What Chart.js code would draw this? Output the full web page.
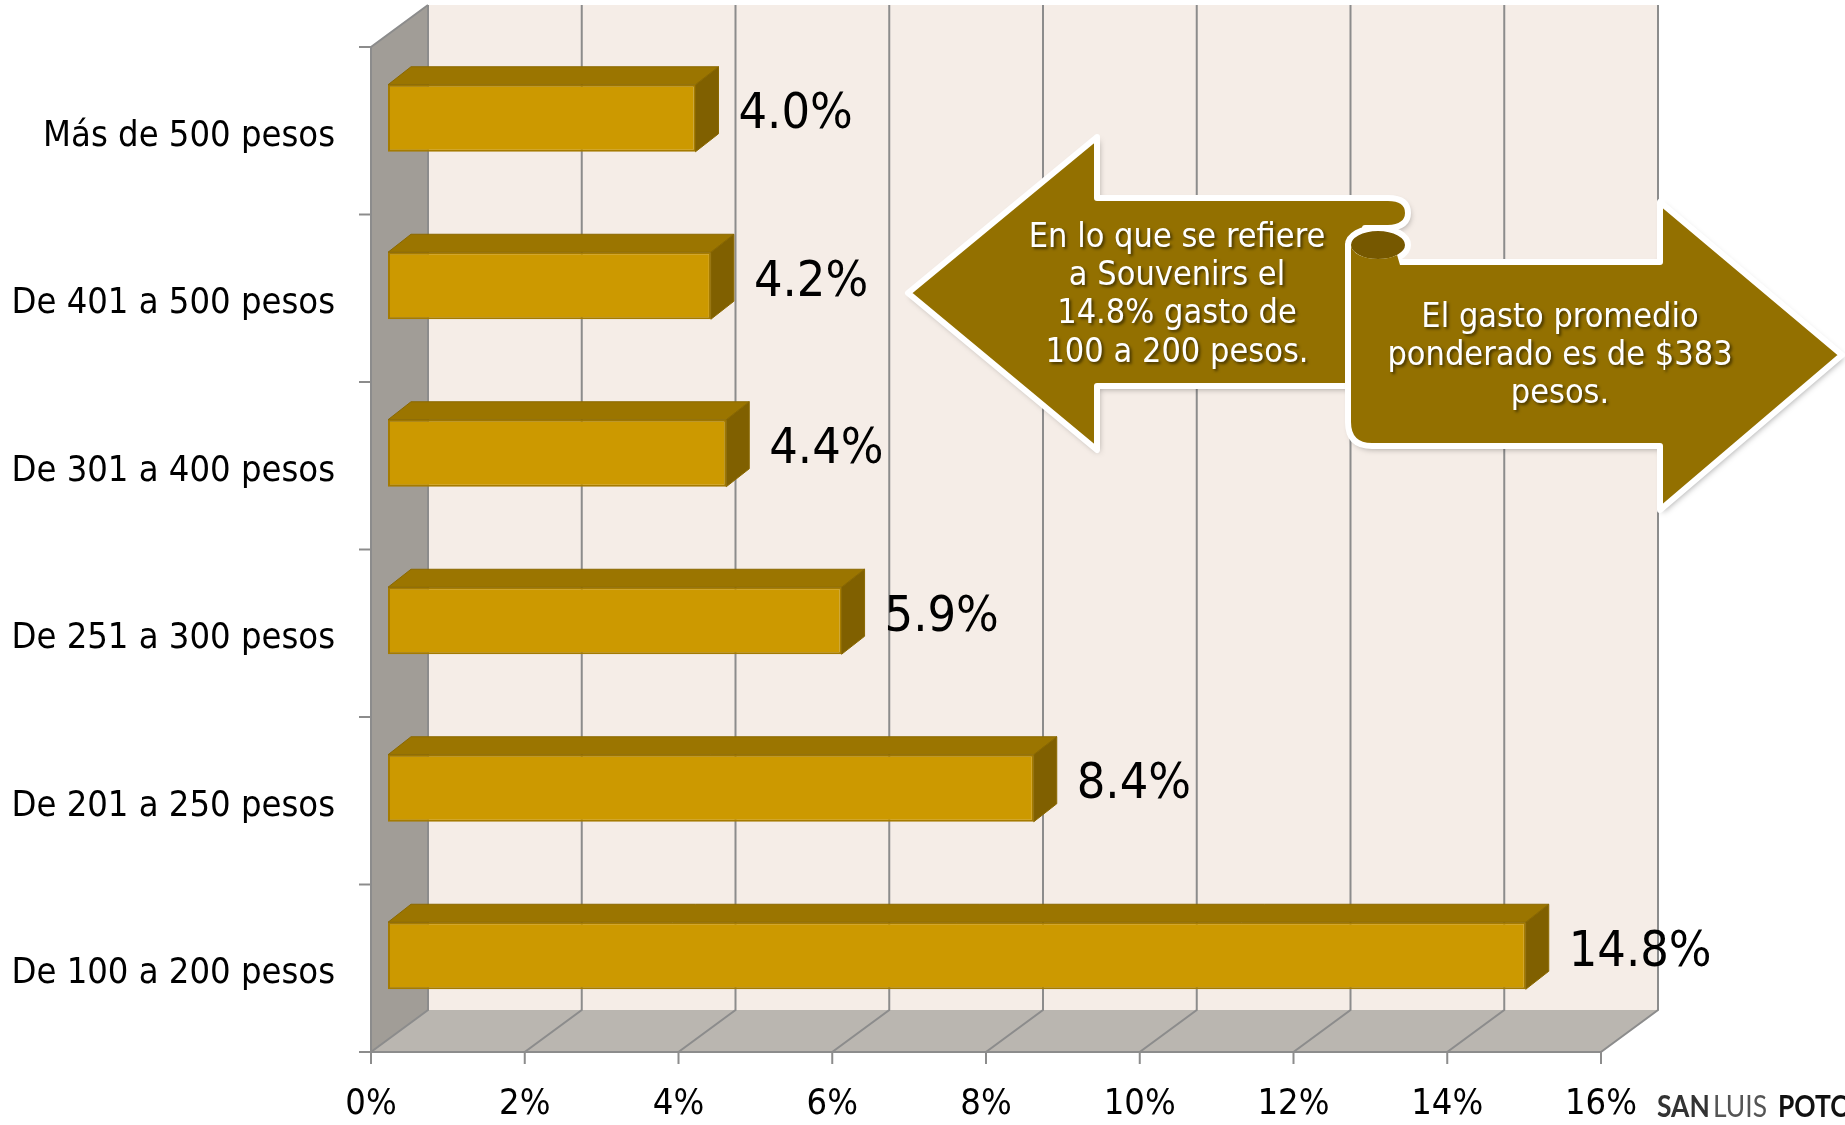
<!DOCTYPE html>
<html>
<head>
<meta charset="utf-8">
<script src="https://cdn.jsdelivr.net/npm/chart.js@4/dist/chart.umd.min.js"></script>
<style>
  html, body { margin: 0; padding: 0; background: #ffffff; }
  #wrap { width: 1845px; height: 1125px; }
</style>
</head>
<body>
<div id="wrap"><canvas id="chart" width="1845" height="1125"></canvas></div>
<script>
// Datos del gráfico
const categories = [
  'Más de 500 pesos',
  'De 401 a 500 pesos',
  'De 301 a 400 pesos',
  'De 251 a 300 pesos',
  'De 201 a 250 pesos',
  'De 100 a 200 pesos'
];
const percentages = [4.0, 4.2, 4.4, 5.9, 8.4, 14.8];
const axisMin = 0;
const axisMax = 16;
const axisStep = 2;

// Textos de las flechas y la fuente
const leftNote = ['En lo que se refiere', 'a Souvenirs el', '14.8% gasto de', '100 a 200 pesos.'];
const rightNote = ['El gasto promedio', 'ponderado es de $383', 'pesos.'];
const sourceWords = ['SAN', 'LUIS', 'POTOSÍ'];

const FONT = "'DejaVu Sans Condensed', 'DejaVu Sans', sans-serif";

// Desplazamientos de profundidad respecto al plano de las barras
const FRONT = { dx: -17, dy: 12.5 };
const BACK = { dx: 40, dy: -29.5 };
const BAR_DEPTH = { dx: 23, dy: -18 };

const GRID = '#8c8c8c';

// Paredes, piso y líneas de la cuadrícula 3D
const wallsPlugin = {
  id: 'walls3d',
  beforeDatasetsDraw(chart) {
    const { ctx, chartArea: ca, scales } = chart;
    const xs = scales.x;
    const x0 = xs.getPixelForValue(axisMin);
    const x1 = xs.getPixelForValue(axisMax);
    const ft = ca.top + FRONT.dy, fb = ca.bottom + FRONT.dy;
    const bt = ca.top + BACK.dy, bb = ca.bottom + BACK.dy;

    ctx.save();
    // pared del fondo
    ctx.fillStyle = '#f5ede7';
    ctx.fillRect(x0 + BACK.dx, bt, x1 - x0, bb - bt);

    // pared izquierda
    ctx.fillStyle = '#a19d97';
    ctx.beginPath();
    ctx.moveTo(x0 + FRONT.dx, ft);
    ctx.lineTo(x0 + BACK.dx, bt);
    ctx.lineTo(x0 + BACK.dx, bb);
    ctx.lineTo(x0 + FRONT.dx, fb);
    ctx.closePath();
    ctx.fill();

    // piso
    ctx.fillStyle = '#bab6b0';
    ctx.beginPath();
    ctx.moveTo(x0 + FRONT.dx, fb);
    ctx.lineTo(x0 + BACK.dx, bb);
    ctx.lineTo(x1 + BACK.dx, bb);
    ctx.lineTo(x1 + FRONT.dx, fb);
    ctx.closePath();
    ctx.fill();

    ctx.strokeStyle = GRID;
    ctx.lineWidth = 2;
    xs.ticks.forEach(t => {
      const px = xs.getPixelForValue(t.value);
      ctx.beginPath();
      ctx.moveTo(px + BACK.dx, bt);
      ctx.lineTo(px + BACK.dx, bb);
      ctx.lineTo(px + FRONT.dx, fb);
      ctx.lineTo(px + FRONT.dx, fb + 12);
      ctx.stroke();
    });

    // bordes de la pared izquierda y eje frontal
    ctx.beginPath();
    ctx.moveTo(x0 + BACK.dx, bt);
    ctx.lineTo(x0 + FRONT.dx, ft);
    ctx.lineTo(x0 + FRONT.dx, fb);
    ctx.lineTo(x1 + FRONT.dx, fb);
    ctx.stroke();

    // marcas del eje de categorías
    const band = (ca.bottom - ca.top) / categories.length;
    for (let i = 0; i <= categories.length; i++) {
      const py = ft + i * band;
      ctx.beginPath();
      ctx.moveTo(x0 + FRONT.dx - 12, py);
      ctx.lineTo(x0 + FRONT.dx, py);
      ctx.stroke();
    }
    ctx.restore();
  },

  afterDatasetsDraw(chart) {
    const { ctx } = chart;
    const meta = chart.getDatasetMeta(0);
    ctx.save();
    meta.data.forEach((bar, i) => {
      const { x, y, base, height } = bar.getProps(['x', 'y', 'base', 'height'], true);
      const top = y - height / 2, bottom = y + height / 2;
      const d = BAR_DEPTH;

      // cara superior
      ctx.fillStyle = '#9b7500';
      ctx.strokeStyle = '#8a6800';
      ctx.lineWidth = 1;
      ctx.beginPath();
      ctx.moveTo(base, top);
      ctx.lineTo(base + d.dx, top + d.dy);
      ctx.lineTo(x + d.dx, top + d.dy);
      ctx.lineTo(x, top);
      ctx.closePath();
      ctx.fill();
      ctx.stroke();

      // cara lateral
      ctx.fillStyle = '#806000';
      ctx.beginPath();
      ctx.moveTo(x, top);
      ctx.lineTo(x + d.dx, top + d.dy);
      ctx.lineTo(x + d.dx, bottom + d.dy);
      ctx.lineTo(x, bottom);
      ctx.closePath();
      ctx.fill();
      ctx.stroke();

      // etiqueta de valor
      ctx.fillStyle = '#000000';
      ctx.font = '50px ' + FONT;
      ctx.textAlign = 'left';
      ctx.textBaseline = 'middle';
      ctx.fillText(percentages[i].toFixed(1) + '%', x + d.dx + 20, y - 3);
    });
    ctx.restore();
  }
};

// Flechas con notas y texto de la fuente
const notesPlugin = {
  id: 'notes',
  afterDraw(chart) {
    const { ctx } = chart;
    const fill = '#937000';
    ctx.save();
    ctx.lineJoin = 'round';

    // flecha izquierda
    ctx.beginPath();
    ctx.moveTo(1097, 137);
    ctx.lineTo(908, 293);
    ctx.lineTo(1097, 450);
    ctx.lineTo(1097, 386);
    ctx.lineTo(1365, 386);
    ctx.lineTo(1365, 228);
    ctx.lineTo(1388, 228);
    ctx.quadraticCurveTo(1408, 227, 1408, 213);
    ctx.quadraticCurveTo(1408, 198, 1388, 198);
    ctx.lineTo(1097, 198);
    ctx.closePath();
    drawShape(ctx, fill);

    // flecha derecha
    ctx.beginPath();
    ctx.moveTo(1348, 245);
    ctx.lineTo(1348, 422);
    ctx.quadraticCurveTo(1348, 446, 1372, 446);
    ctx.lineTo(1660, 446);
    ctx.lineTo(1660, 510);
    ctx.lineTo(1842, 355);
    ctx.lineTo(1660, 202);
    ctx.lineTo(1660, 262);
    ctx.lineTo(1378, 262);
    ctx.closePath();
    drawShape(ctx, fill);

    // rollo de la flecha derecha
    ctx.beginPath();
    ctx.ellipse(1378, 245, 30, 17, 0, 0, Math.PI * 2);
    ctx.fillStyle = '#765800';
    ctx.fill();
    ctx.strokeStyle = '#ffffff';
    ctx.lineWidth = 6;
    ctx.stroke();
    // tapa el borde bajo del rollo con el cuerpo
    ctx.beginPath();
    ctx.moveTo(1351, 247);
    ctx.lineTo(1351, 300);
    ctx.lineTo(1400, 300);
    ctx.lineTo(1400, 265);
    ctx.ellipse(1378, 245, 27, 14, 0, Math.PI * 0.25, Math.PI, false);
    ctx.closePath();
    ctx.fillStyle = fill;
    ctx.fill();

    // textos
    ctx.font = '34px ' + FONT;
    ctx.textAlign = 'center';
    ctx.textBaseline = 'middle';
    ctx.shadowColor = 'rgba(0,0,0,0.55)';
    ctx.shadowBlur = 3;
    ctx.shadowOffsetX = 2;
    ctx.shadowOffsetY = 2;
    ctx.fillStyle = '#ffffff';
    leftNote.forEach((line, i) => ctx.fillText(line, 1177, 238 + i * 38.3));
    rightNote.forEach((line, i) => ctx.fillText(line, 1560, 318 + i * 38.3));
    ctx.restore();

    // fuente abajo a la derecha
    ctx.save();
    ctx.textBaseline = 'alphabetic';
    ctx.textAlign = 'left';
    const styles = [
      { font: 'bold 30px Lato, sans-serif', color: '#333333', x: 1657 },
      { font: '30px Lato, sans-serif', color: '#555555', x: 1713 },
      { font: 'bold 30px Lato, sans-serif', color: '#111111', x: 1778 }
    ];
    sourceWords.forEach((w, i) => {
      ctx.save();
      ctx.translate(styles[i].x, 1117);
      ctx.scale(0.88, 1);
      ctx.font = styles[i].font;
      ctx.fillStyle = styles[i].color;
      ctx.fillText(w, 0, 0);
      ctx.restore();
    });
    ctx.restore();
  }
};

function drawShape(ctx, color) {
  ctx.save();
  ctx.shadowColor = 'rgba(0,0,0,0.35)';
  ctx.shadowBlur = 6;
  ctx.shadowOffsetX = 2;
  ctx.shadowOffsetY = 3;
  ctx.fillStyle = color;
  ctx.fill();
  ctx.restore();
  ctx.save();
  ctx.strokeStyle = '#ffffff';
  ctx.lineWidth = 6;
  ctx.stroke();
  ctx.restore();
}

const chart = new Chart(document.getElementById('chart'), {
  type: 'bar',
  data: {
    labels: categories,
    datasets: [{
      data: percentages,
      backgroundColor: '#cc9900',
      borderColor: '#a57b00',
      borderWidth: 2,
      borderSkipped: false,
      barPercentage: 0.4,
      categoryPercentage: 1.0
    }]
  },
  options: {
    indexAxis: 'y',
    responsive: false,
    animation: false,
    devicePixelRatio: 1,
    layout: { padding: { top: 34.5, right: 227, left: 0, bottom: 0 } },
    plugins: {
      legend: { display: false },
      tooltip: { enabled: false }
    },
    scales: {
      x: {
        min: axisMin,
        max: axisMax,
        grid: { display: false, drawTicks: false },
        border: { display: false },
        ticks: {
          stepSize: axisStep,
          color: '#000000',
          font: { family: FONT, size: 36 },
          padding: 44,
          labelOffset: FRONT.dx,
          maxRotation: 0,
          callback: v => v + '%'
        },
        afterFit(scale) { scale.height = 85.5; }
      },
      y: {
        grid: { display: false, drawTicks: false },
        border: { display: false },
        ticks: {
          color: '#000000',
          font: { family: FONT, size: 36 },
          padding: 53,
          labelOffset: 18
        },
        afterFit(scale) {
          scale.width = 388;
          scale.paddingTop = 0;
          scale.paddingBottom = 0;
        }
      }
    }
  },
  plugins: [wallsPlugin, notesPlugin]
});
</script>
</body>
</html>
